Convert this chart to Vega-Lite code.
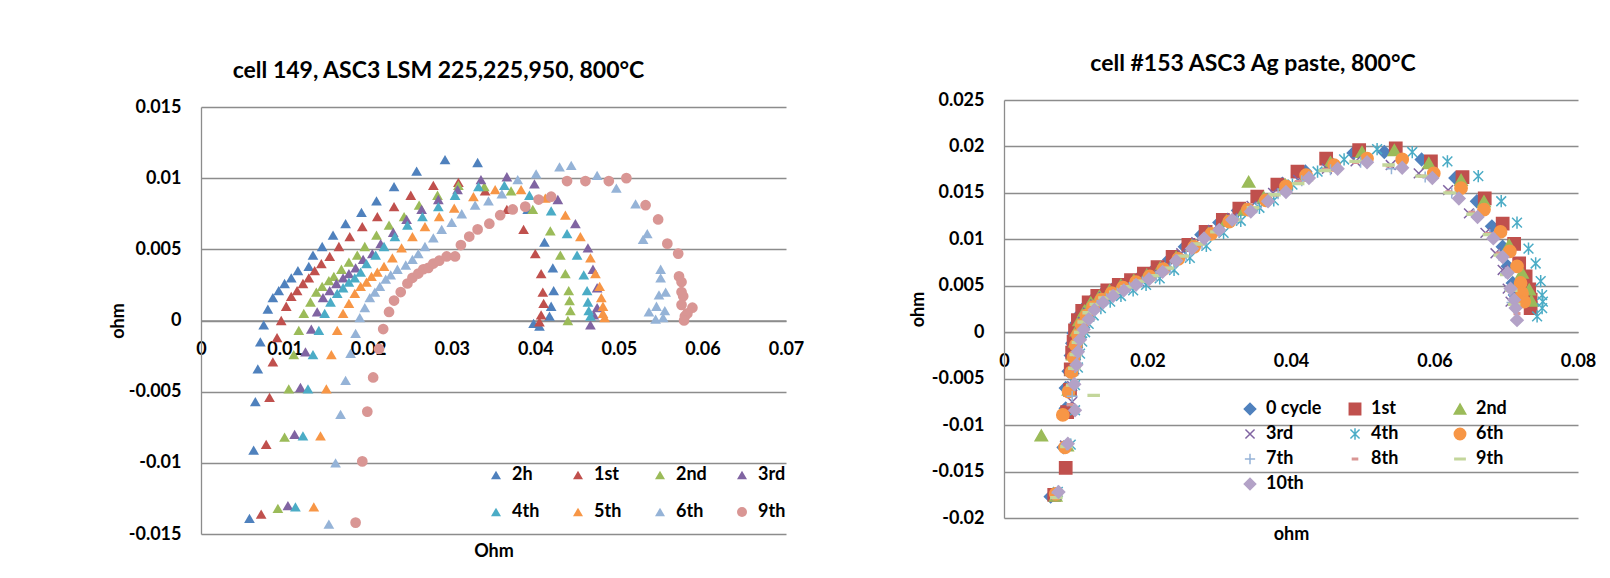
{
"$schema": "https://vega.github.io/schema/vega-lite/v6.json",
"background": "white",
"padding": {"left": 109, "top": 53, "right": 0, "bottom": 0},
"spacing": 218,
"bounds": "flush",
"config": {
  "font": "Lato",
  "view": {"stroke": null},
  "axis": {"labelFont": "Lato", "labelFontWeight": "bold", "labelFontSize": 18, "labelColor": "#000", "titleFont": "Lato", "titleFontWeight": "bold", "titleFontSize": 18, "titleColor": "#000", "ticks": false, "gridColor": "#8c8c8c", "domainColor": "#8c8c8c", "gridWidth": 1.3, "domainWidth": 1.3, "gridOpacity": 1, "labelFlush": false},
  "legend": {"labelFont": "Lato", "labelFontWeight": "bold", "labelFontSize": 18, "labelColor": "#000", "padding": 0},
  "title": {"font": "Lato", "fontWeight": "bold", "fontSize": 23, "color": "#000"}
},
"resolve": {"scale": {"color": "independent", "shape": "independent", "stroke": "independent"}, "legend": {"color": "independent", "shape": "independent", "stroke": "independent"}},
"hconcat": [
{
  "width": 585, "height": 434,
  "title": {"text": "cell 149, ASC3 LSM 225,225,950, 800°C", "frame": "group", "anchor": "middle", "dx": -55, "offset": -8, "baseline": "bottom"},
  "data": {"values": [
{"s":"2h","x":0.0058,"y":-0.0139},{"s":"2h","x":0.0063,"y":-0.0091},{"s":"2h","x":0.0065,"y":-0.0057},{"s":"2h","x":0.0068,"y":-0.0034},{"s":"2h","x":0.0071,"y":-0.0015},{"s":"2h","x":0.0075,"y":-0.0003},{"s":"2h","x":0.0080,"y":0.0008},{"s":"2h","x":0.0086,"y":0.0016},{"s":"2h","x":0.0093,"y":0.0021},{"s":"2h","x":0.0100,"y":0.0026},{"s":"2h","x":0.0108,"y":0.0030},{"s":"2h","x":0.0116,"y":0.0035},{"s":"2h","x":0.0129,"y":0.0038},{"s":"2h","x":0.0134,"y":0.0046},{"s":"2h","x":0.0145,"y":0.0052},{"s":"2h","x":0.0158,"y":0.0060},{"s":"2h","x":0.0173,"y":0.0068},{"s":"2h","x":0.0192,"y":0.0076},{"s":"2h","x":0.0210,"y":0.0084},{"s":"2h","x":0.0231,"y":0.0094},{"s":"2h","x":0.0258,"y":0.0105},{"s":"2h","x":0.0292,"y":0.0113},{"s":"2h","x":0.0331,"y":0.0111},{"s":"2h","x":0.0391,"y":0.0078},{"s":"2h","x":0.0411,"y":0.0055},{"s":"2h","x":0.0421,"y":0.0037},{"s":"2h","x":0.0422,"y":0.0021},{"s":"2h","x":0.0419,"y":0.0010},{"s":"2h","x":0.0417,"y":0.0003},{"s":"2h","x":0.0398,"y":-0.0002},{"s":"2h","x":0.0405,"y":-0.0004},
{"s":"1st","x":0.0072,"y":-0.0136},{"s":"1st","x":0.0078,"y":-0.0087},{"s":"1st","x":0.0082,"y":-0.0054},{"s":"1st","x":0.0086,"y":-0.0029},{"s":"1st","x":0.0091,"y":-0.0012},{"s":"1st","x":0.0096,"y":0.0000},{"s":"1st","x":0.0102,"y":0.0010},{"s":"1st","x":0.0108,"y":0.0017},{"s":"1st","x":0.0115,"y":0.0021},{"s":"1st","x":0.0122,"y":0.0026},{"s":"1st","x":0.0129,"y":0.0030},{"s":"1st","x":0.0136,"y":0.0035},{"s":"1st","x":0.0144,"y":0.0040},{"s":"1st","x":0.0154,"y":0.0045},{"s":"1st","x":0.0165,"y":0.0052},{"s":"1st","x":0.0178,"y":0.0059},{"s":"1st","x":0.0193,"y":0.0066},{"s":"1st","x":0.0211,"y":0.0073},{"s":"1st","x":0.0231,"y":0.0080},{"s":"1st","x":0.0251,"y":0.0088},{"s":"1st","x":0.0278,"y":0.0095},{"s":"1st","x":0.0308,"y":0.0097},{"s":"1st","x":0.0340,"y":0.0091},{"s":"1st","x":0.0366,"y":0.0078},{"s":"1st","x":0.0386,"y":0.0064},{"s":"1st","x":0.0400,"y":0.0047},{"s":"1st","x":0.0407,"y":0.0033},{"s":"1st","x":0.0409,"y":0.0020},{"s":"1st","x":0.0410,"y":0.0012},{"s":"1st","x":0.0407,"y":0.0004},{"s":"1st","x":0.0405,"y":-0.0001},
{"s":"2nd","x":0.0092,"y":-0.0132},{"s":"2nd","x":0.0100,"y":-0.0082},{"s":"2nd","x":0.0105,"y":-0.0048},{"s":"2nd","x":0.0111,"y":-0.0024},{"s":"2nd","x":0.0117,"y":-0.0007},{"s":"2nd","x":0.0123,"y":0.0005},{"s":"2nd","x":0.0131,"y":0.0013},{"s":"2nd","x":0.0138,"y":0.0020},{"s":"2nd","x":0.0145,"y":0.0024},{"s":"2nd","x":0.0153,"y":0.0028},{"s":"2nd","x":0.0159,"y":0.0031},{"s":"2nd","x":0.0168,"y":0.0036},{"s":"2nd","x":0.0177,"y":0.0041},{"s":"2nd","x":0.0187,"y":0.0046},{"s":"2nd","x":0.0196,"y":0.0052},{"s":"2nd","x":0.0210,"y":0.0060},{"s":"2nd","x":0.0225,"y":0.0067},{"s":"2nd","x":0.0243,"y":0.0073},{"s":"2nd","x":0.0261,"y":0.0081},{"s":"2nd","x":0.0283,"y":0.0088},{"s":"2nd","x":0.0308,"y":0.0095},{"s":"2nd","x":0.0339,"y":0.0094},{"s":"2nd","x":0.0371,"y":0.0091},{"s":"2nd","x":0.0397,"y":0.0078},{"s":"2nd","x":0.0418,"y":0.0063},{"s":"2nd","x":0.0430,"y":0.0046},{"s":"2nd","x":0.0436,"y":0.0033},{"s":"2nd","x":0.0440,"y":0.0021},{"s":"2nd","x":0.0441,"y":0.0014},{"s":"2nd","x":0.0442,"y":0.0007},{"s":"2nd","x":0.0439,"y":0.0000},
{"s":"3rd","x":0.0104,"y":-0.0130},{"s":"3rd","x":0.0112,"y":-0.0080},{"s":"3rd","x":0.0119,"y":-0.0047},{"s":"3rd","x":0.0125,"y":-0.0022},{"s":"3rd","x":0.0132,"y":-0.0006},{"s":"3rd","x":0.0139,"y":0.0006},{"s":"3rd","x":0.0146,"y":0.0016},{"s":"3rd","x":0.0154,"y":0.0021},{"s":"3rd","x":0.0162,"y":0.0026},{"s":"3rd","x":0.0170,"y":0.0030},{"s":"3rd","x":0.0177,"y":0.0033},{"s":"3rd","x":0.0185,"y":0.0037},{"s":"3rd","x":0.0194,"y":0.0043},{"s":"3rd","x":0.0205,"y":0.0047},{"s":"3rd","x":0.0215,"y":0.0054},{"s":"3rd","x":0.0230,"y":0.0062},{"s":"3rd","x":0.0246,"y":0.0071},{"s":"3rd","x":0.0264,"y":0.0078},{"s":"3rd","x":0.0284,"y":0.0085},{"s":"3rd","x":0.0307,"y":0.0092},{"s":"3rd","x":0.0335,"y":0.0099},{"s":"3rd","x":0.0366,"y":0.0101},{"s":"3rd","x":0.0399,"y":0.0096},{"s":"3rd","x":0.0427,"y":0.0085},{"s":"3rd","x":0.0448,"y":0.0068},{"s":"3rd","x":0.0463,"y":0.0051},{"s":"3rd","x":0.0469,"y":0.0036},{"s":"3rd","x":0.0474,"y":0.0023},{"s":"3rd","x":0.0474,"y":0.0009},{"s":"3rd","x":0.0470,"y":0.0004},{"s":"3rd","x":0.0466,"y":-0.0003},
{"s":"4th","x":0.0113,"y":-0.0131},{"s":"4th","x":0.0122,"y":-0.0081},{"s":"4th","x":0.0128,"y":-0.0048},{"s":"4th","x":0.0134,"y":-0.0024},{"s":"4th","x":0.0141,"y":-0.0007},{"s":"4th","x":0.0148,"y":0.0005},{"s":"4th","x":0.0155,"y":0.0013},{"s":"4th","x":0.0163,"y":0.0019},{"s":"4th","x":0.0170,"y":0.0023},{"s":"4th","x":0.0177,"y":0.0027},{"s":"4th","x":0.0184,"y":0.0030},{"s":"4th","x":0.0191,"y":0.0034},{"s":"4th","x":0.0198,"y":0.0040},{"s":"4th","x":0.0209,"y":0.0046},{"s":"4th","x":0.0219,"y":0.0052},{"s":"4th","x":0.0232,"y":0.0059},{"s":"4th","x":0.0247,"y":0.0067},{"s":"4th","x":0.0265,"y":0.0073},{"s":"4th","x":0.0284,"y":0.0080},{"s":"4th","x":0.0304,"y":0.0088},{"s":"4th","x":0.0332,"y":0.0094},{"s":"4th","x":0.0363,"y":0.0095},{"s":"4th","x":0.0393,"y":0.0088},{"s":"4th","x":0.0419,"y":0.0077},{"s":"4th","x":0.0438,"y":0.0061},{"s":"4th","x":0.0450,"y":0.0046},{"s":"4th","x":0.0458,"y":0.0032},{"s":"4th","x":0.0462,"y":0.0021},{"s":"4th","x":0.0463,"y":0.0013},{"s":"4th","x":0.0464,"y":0.0007},{"s":"4th","x":0.0466,"y":0.0003},
{"s":"5th","x":0.0135,"y":-0.0131},{"s":"5th","x":0.0143,"y":-0.0081},{"s":"5th","x":0.0150,"y":-0.0048},{"s":"5th","x":0.0156,"y":-0.0024},{"s":"5th","x":0.0163,"y":-0.0007},{"s":"5th","x":0.0170,"y":0.0005},{"s":"5th","x":0.0177,"y":0.0012},{"s":"5th","x":0.0184,"y":0.0019},{"s":"5th","x":0.0191,"y":0.0024},{"s":"5th","x":0.0198,"y":0.0027},{"s":"5th","x":0.0204,"y":0.0031},{"s":"5th","x":0.0211,"y":0.0034},{"s":"5th","x":0.0219,"y":0.0038},{"s":"5th","x":0.0229,"y":0.0044},{"s":"5th","x":0.0240,"y":0.0051},{"s":"5th","x":0.0253,"y":0.0059},{"s":"5th","x":0.0268,"y":0.0066},{"s":"5th","x":0.0285,"y":0.0073},{"s":"5th","x":0.0303,"y":0.0079},{"s":"5th","x":0.0326,"y":0.0087},{"s":"5th","x":0.0352,"y":0.0092},{"s":"5th","x":0.0383,"y":0.0092},{"s":"5th","x":0.0412,"y":0.0086},{"s":"5th","x":0.0436,"y":0.0074},{"s":"5th","x":0.0454,"y":0.0059},{"s":"5th","x":0.0466,"y":0.0044},{"s":"5th","x":0.0472,"y":0.0033},{"s":"5th","x":0.0477,"y":0.0024},{"s":"5th","x":0.0479,"y":0.0016},{"s":"5th","x":0.0481,"y":0.0010},{"s":"5th","x":0.0481,"y":0.0005},{"s":"5th","x":0.0483,"y":0.0002},
{"s":"6th","x":0.0153,"y":-0.0143},{"s":"6th","x":0.0161,"y":-0.0100},{"s":"6th","x":0.0167,"y":-0.0066},{"s":"6th","x":0.0173,"y":-0.0042},{"s":"6th","x":0.0179,"y":-0.0023},{"s":"6th","x":0.0185,"y":-0.0009},{"s":"6th","x":0.0190,"y":0.0002},{"s":"6th","x":0.0196,"y":0.0009},{"s":"6th","x":0.0202,"y":0.0016},{"s":"6th","x":0.0208,"y":0.0020},{"s":"6th","x":0.0214,"y":0.0024},{"s":"6th","x":0.0221,"y":0.0029},{"s":"6th","x":0.0227,"y":0.0032},{"s":"6th","x":0.0235,"y":0.0036},{"s":"6th","x":0.0245,"y":0.0039},{"s":"6th","x":0.0253,"y":0.0043},{"s":"6th","x":0.0260,"y":0.0047},{"s":"6th","x":0.0268,"y":0.0052},{"s":"6th","x":0.0278,"y":0.0058},{"s":"6th","x":0.0288,"y":0.0064},{"s":"6th","x":0.0300,"y":0.0069},{"s":"6th","x":0.0312,"y":0.0075},{"s":"6th","x":0.0328,"y":0.0081},{"s":"6th","x":0.0344,"y":0.0084},{"s":"6th","x":0.0360,"y":0.0089},{"s":"6th","x":0.0379,"y":0.0099},{"s":"6th","x":0.0401,"y":0.0103},{"s":"6th","x":0.0429,"y":0.0108},{"s":"6th","x":0.0443,"y":0.0109},{"s":"6th","x":0.0474,"y":0.0102},{"s":"6th","x":0.0497,"y":0.0093},{"s":"6th","x":0.0520,"y":0.0082},{"s":"6th","x":0.0534,"y":0.0061},{"s":"6th","x":0.0529,"y":0.0057},{"s":"6th","x":0.0550,"y":0.0036},{"s":"6th","x":0.0550,"y":0.0030},{"s":"6th","x":0.0556,"y":0.0020},{"s":"6th","x":0.0548,"y":0.0018},{"s":"6th","x":0.0545,"y":0.0010},{"s":"6th","x":0.0555,"y":0.0007},{"s":"6th","x":0.0536,"y":0.0006},{"s":"6th","x":0.0544,"y":0.0001},{"s":"6th","x":0.0553,"y":0.0002},
{"s":"9th","x":0.0185,"y":-0.0142},{"s":"9th","x":0.0193,"y":-0.0099},{"s":"9th","x":0.0199,"y":-0.0064},{"s":"9th","x":0.0206,"y":-0.0040},{"s":"9th","x":0.0213,"y":-0.0020},{"s":"9th","x":0.0218,"y":-0.0006},{"s":"9th","x":0.0225,"y":0.0006},{"s":"9th","x":0.0231,"y":0.0014},{"s":"9th","x":0.0239,"y":0.0020},{"s":"9th","x":0.0247,"y":0.0026},{"s":"9th","x":0.0253,"y":0.0030},{"s":"9th","x":0.0260,"y":0.0033},{"s":"9th","x":0.0266,"y":0.0036},{"s":"9th","x":0.0272,"y":0.0037},{"s":"9th","x":0.0278,"y":0.0040},{"s":"9th","x":0.0285,"y":0.0042},{"s":"9th","x":0.0294,"y":0.0045},{"s":"9th","x":0.0304,"y":0.0045},{"s":"9th","x":0.0311,"y":0.0053},{"s":"9th","x":0.0321,"y":0.0059},{"s":"9th","x":0.0331,"y":0.0064},{"s":"9th","x":0.0345,"y":0.0068},{"s":"9th","x":0.0358,"y":0.0074},{"s":"9th","x":0.0373,"y":0.0078},{"s":"9th","x":0.0388,"y":0.0080},{"s":"9th","x":0.0404,"y":0.0085},{"s":"9th","x":0.0419,"y":0.0087},{"s":"9th","x":0.0438,"y":0.0098},{"s":"9th","x":0.0460,"y":0.0098},{"s":"9th","x":0.0488,"y":0.0098},{"s":"9th","x":0.0509,"y":0.0100},{"s":"9th","x":0.0532,"y":0.0081},{"s":"9th","x":0.0547,"y":0.0071},{"s":"9th","x":0.0558,"y":0.0054},{"s":"9th","x":0.0571,"y":0.0047},{"s":"9th","x":0.0572,"y":0.0031},{"s":"9th","x":0.0575,"y":0.0027},{"s":"9th","x":0.0575,"y":0.0020},{"s":"9th","x":0.0577,"y":0.0017},{"s":"9th","x":0.0575,"y":0.0011},{"s":"9th","x":0.0588,"y":0.0009},{"s":"9th","x":0.0582,"y":0.0005},{"s":"9th","x":0.0579,"y":0.0003},{"s":"9th","x":0.0578,"y":0.0000}
  ]},
  "mark": {"type": "point", "filled": true, "size": 115, "opacity": 1, "strokeWidth": 0},
  "encoding": {
    "x": {"field": "x", "type": "quantitative", "scale": {"domain": [0, 0.07], "nice": false, "zero": false},
      "axis": {"values": [0, 0.01, 0.02, 0.03, 0.04, 0.05, 0.06, 0.07], "labelExpr": "'' + datum.value", "title": "Ohm", "grid": false, "offset": -213.5, "labelPadding": 20, "titleY": 231, "titleBaseline": "middle"}},
    "y": {"field": "y", "type": "quantitative", "scale": {"domain": [-0.015, 0.015], "nice": false, "zero": false, "range": [434, 7]},
      "axis": {"values": [-0.015, -0.01, -0.005, 0, 0.005, 0.01, 0.015], "labelExpr": "'' + datum.value", "title": "ohm", "grid": true, "labelPadding": 20, "titleX": -83, "titleBaseline": "middle"}},
    "color": {"field": "s", "type": "nominal",
      "scale": {"domain": ["2h","1st","2nd","3rd","4th","5th","6th","9th"], "range": ["#4F81BD","#C0504D","#9BBB59","#8064A2","#4BACC6","#F79646","#95B3D7","#D99694"]},
      "legend": {"orient": "none", "direction": "horizontal", "legendX": 286, "legendY": 366, "columns": 4, "title": null, "symbolSize": 100, "labelOffset": 7, "columnPadding": 26, "rowPadding": 19, "gridAlign": "all"}},
    "shape": {"field": "s", "type": "nominal",
      "scale": {"domain": ["2h","1st","2nd","3rd","4th","5th","6th","9th"], "range": ["triangle-up","triangle-up","triangle-up","triangle-up","triangle-up","triangle-up","triangle-up","circle"]}}
  }
},
{
  "width": 574, "height": 418,
  "title": {"text": "cell #153 ASC3 Ag paste, 800°C", "frame": "group", "anchor": "middle", "dx": -38, "offset": -8, "baseline": "bottom"},
  "data": {"values": [
{"s":"0 cycle","x":0.0065,"y":-0.0177},{"s":"0 cycle","x":0.0083,"y":-0.0124},{"s":"0 cycle","x":0.0086,"y":-0.0082},{"s":"0 cycle","x":0.0086,"y":-0.0060},{"s":"0 cycle","x":0.0090,"y":-0.0042},{"s":"0 cycle","x":0.0093,"y":-0.0025},{"s":"0 cycle","x":0.0095,"y":-0.0012},{"s":"0 cycle","x":0.0097,"y":-0.0001},{"s":"0 cycle","x":0.0101,"y":0.0010},{"s":"0 cycle","x":0.0107,"y":0.0020},{"s":"0 cycle","x":0.0115,"y":0.0029},{"s":"0 cycle","x":0.0126,"y":0.0037},{"s":"0 cycle","x":0.0140,"y":0.0044},{"s":"0 cycle","x":0.0156,"y":0.0050},{"s":"0 cycle","x":0.0173,"y":0.0055},{"s":"0 cycle","x":0.0191,"y":0.0061},{"s":"0 cycle","x":0.0210,"y":0.0068},{"s":"0 cycle","x":0.0230,"y":0.0078},{"s":"0 cycle","x":0.0252,"y":0.0092},{"s":"0 cycle","x":0.0275,"y":0.0105},{"s":"0 cycle","x":0.0300,"y":0.0118},{"s":"0 cycle","x":0.0326,"y":0.0131},{"s":"0 cycle","x":0.0355,"y":0.0145},{"s":"0 cycle","x":0.0388,"y":0.0160},{"s":"0 cycle","x":0.0420,"y":0.0173},{"s":"0 cycle","x":0.0455,"y":0.0183},{"s":"0 cycle","x":0.0487,"y":0.0193},{"s":"0 cycle","x":0.0530,"y":0.0194},{"s":"0 cycle","x":0.0582,"y":0.0186},{"s":"0 cycle","x":0.0629,"y":0.0166},{"s":"0 cycle","x":0.0659,"y":0.0141},{"s":"0 cycle","x":0.0680,"y":0.0114},{"s":"0 cycle","x":0.0695,"y":0.0092},{"s":"0 cycle","x":0.0702,"y":0.0071},{"s":"0 cycle","x":0.0709,"y":0.0053},{"s":"0 cycle","x":0.0712,"y":0.0040},
{"s":"1st","x":0.0070,"y":-0.0175},{"s":"1st","x":0.0086,"y":-0.0146},{"s":"1st","x":0.0088,"y":-0.0086},{"s":"1st","x":0.0092,"y":-0.0062},{"s":"1st","x":0.0093,"y":-0.0040},{"s":"1st","x":0.0095,"y":-0.0022},{"s":"1st","x":0.0097,"y":-0.0010},{"s":"1st","x":0.0099,"y":0.0002},{"s":"1st","x":0.0103,"y":0.0013},{"s":"1st","x":0.0109,"y":0.0023},{"s":"1st","x":0.0118,"y":0.0032},{"s":"1st","x":0.0130,"y":0.0039},{"s":"1st","x":0.0144,"y":0.0045},{"s":"1st","x":0.0160,"y":0.0051},{"s":"1st","x":0.0177,"y":0.0056},{"s":"1st","x":0.0195,"y":0.0063},{"s":"1st","x":0.0214,"y":0.0070},{"s":"1st","x":0.0235,"y":0.0081},{"s":"1st","x":0.0257,"y":0.0094},{"s":"1st","x":0.0281,"y":0.0108},{"s":"1st","x":0.0305,"y":0.0121},{"s":"1st","x":0.0328,"y":0.0133},{"s":"1st","x":0.0353,"y":0.0146},{"s":"1st","x":0.0381,"y":0.0159},{"s":"1st","x":0.0409,"y":0.0173},{"s":"1st","x":0.0449,"y":0.0187},{"s":"1st","x":0.0495,"y":0.0196},{"s":"1st","x":0.0546,"y":0.0198},{"s":"1st","x":0.0595,"y":0.0184},{"s":"1st","x":0.0639,"y":0.0167},{"s":"1st","x":0.0670,"y":0.0144},{"s":"1st","x":0.0695,"y":0.0117},{"s":"1st","x":0.0711,"y":0.0095},{"s":"1st","x":0.0718,"y":0.0074},{"s":"1st","x":0.0727,"y":0.0060},{"s":"1st","x":0.0732,"y":0.0046},{"s":"1st","x":0.0734,"y":0.0035},{"s":"1st","x":0.0734,"y":0.0026},
{"s":"2nd","x":0.0072,"y":-0.0176},{"s":"2nd","x":0.0052,"y":-0.0111},{"s":"2nd","x":0.0088,"y":-0.0122},{"s":"2nd","x":0.0090,"y":-0.0062},{"s":"2nd","x":0.0094,"y":-0.0040},{"s":"2nd","x":0.0096,"y":-0.0024},{"s":"2nd","x":0.0099,"y":-0.0010},{"s":"2nd","x":0.0101,"y":0.0002},{"s":"2nd","x":0.0105,"y":0.0013},{"s":"2nd","x":0.0112,"y":0.0023},{"s":"2nd","x":0.0121,"y":0.0032},{"s":"2nd","x":0.0133,"y":0.0039},{"s":"2nd","x":0.0147,"y":0.0045},{"s":"2nd","x":0.0163,"y":0.0051},{"s":"2nd","x":0.0181,"y":0.0056},{"s":"2nd","x":0.0199,"y":0.0062},{"s":"2nd","x":0.0218,"y":0.0070},{"s":"2nd","x":0.0240,"y":0.0081},{"s":"2nd","x":0.0262,"y":0.0094},{"s":"2nd","x":0.0285,"y":0.0107},{"s":"2nd","x":0.0310,"y":0.0120},{"s":"2nd","x":0.0341,"y":0.0162},{"s":"2nd","x":0.0335,"y":0.0132},{"s":"2nd","x":0.0362,"y":0.0145},{"s":"2nd","x":0.0392,"y":0.0159},{"s":"2nd","x":0.0421,"y":0.0169},{"s":"2nd","x":0.0455,"y":0.0183},{"s":"2nd","x":0.0499,"y":0.0194},{"s":"2nd","x":0.0544,"y":0.0196},{"s":"2nd","x":0.0592,"y":0.0182},{"s":"2nd","x":0.0637,"y":0.0164},{"s":"2nd","x":0.0669,"y":0.0141},{"s":"2nd","x":0.0704,"y":0.0094},{"s":"2nd","x":0.0722,"y":0.0064},{"s":"2nd","x":0.0732,"y":0.0046},{"s":"2nd","x":0.0735,"y":0.0034},
{"s":"3rd","x":0.0073,"y":-0.0175},{"s":"3rd","x":0.0085,"y":-0.0122},{"s":"3rd","x":0.0095,"y":-0.0075},{"s":"3rd","x":0.0095,"y":-0.0058},{"s":"3rd","x":0.0098,"y":-0.0040},{"s":"3rd","x":0.0100,"y":-0.0025},{"s":"3rd","x":0.0103,"y":-0.0012},{"s":"3rd","x":0.0106,"y":0.0000},{"s":"3rd","x":0.0110,"y":0.0011},{"s":"3rd","x":0.0117,"y":0.0021},{"s":"3rd","x":0.0127,"y":0.0030},{"s":"3rd","x":0.0139,"y":0.0038},{"s":"3rd","x":0.0154,"y":0.0044},{"s":"3rd","x":0.0170,"y":0.0050},{"s":"3rd","x":0.0188,"y":0.0055},{"s":"3rd","x":0.0206,"y":0.0062},{"s":"3rd","x":0.0225,"y":0.0070},{"s":"3rd","x":0.0247,"y":0.0085},{"s":"3rd","x":0.0268,"y":0.0097},{"s":"3rd","x":0.0291,"y":0.0110},{"s":"3rd","x":0.0318,"y":0.0123},{"s":"3rd","x":0.0345,"y":0.0136},{"s":"3rd","x":0.0375,"y":0.0150},{"s":"3rd","x":0.0410,"y":0.0164},{"s":"3rd","x":0.0450,"y":0.0176},{"s":"3rd","x":0.0490,"y":0.0184},{"s":"3rd","x":0.0539,"y":0.0180},{"s":"3rd","x":0.0578,"y":0.0171},{"s":"3rd","x":0.0619,"y":0.0153},{"s":"3rd","x":0.0648,"y":0.0128},{"s":"3rd","x":0.0671,"y":0.0107},{"s":"3rd","x":0.0685,"y":0.0085},{"s":"3rd","x":0.0695,"y":0.0067},{"s":"3rd","x":0.0702,"y":0.0047},{"s":"3rd","x":0.0706,"y":0.0033},
{"s":"4th","x":0.0075,"y":-0.0172},{"s":"4th","x":0.0093,"y":-0.0121},{"s":"4th","x":0.0099,"y":-0.0084},{"s":"4th","x":0.0099,"y":-0.0057},{"s":"4th","x":0.0103,"y":-0.0038},{"s":"4th","x":0.0106,"y":-0.0023},{"s":"4th","x":0.0109,"y":-0.0010},{"s":"4th","x":0.0113,"y":0.0000},{"s":"4th","x":0.0118,"y":0.0009},{"s":"4th","x":0.0125,"y":0.0018},{"s":"4th","x":0.0135,"y":0.0026},{"s":"4th","x":0.0148,"y":0.0033},{"s":"4th","x":0.0163,"y":0.0039},{"s":"4th","x":0.0180,"y":0.0045},{"s":"4th","x":0.0198,"y":0.0051},{"s":"4th","x":0.0217,"y":0.0058},{"s":"4th","x":0.0237,"y":0.0067},{"s":"4th","x":0.0259,"y":0.0080},{"s":"4th","x":0.0282,"y":0.0093},{"s":"4th","x":0.0306,"y":0.0107},{"s":"4th","x":0.0330,"y":0.0120},{"s":"4th","x":0.0356,"y":0.0134},{"s":"4th","x":0.0376,"y":0.0142},{"s":"4th","x":0.0402,"y":0.0159},{"s":"4th","x":0.0437,"y":0.0173},{"s":"4th","x":0.0474,"y":0.0186},{"s":"4th","x":0.0520,"y":0.0197},{"s":"4th","x":0.0569,"y":0.0194},{"s":"4th","x":0.0618,"y":0.0184},{"s":"4th","x":0.0661,"y":0.0168},{"s":"4th","x":0.0693,"y":0.0141},{"s":"4th","x":0.0715,"y":0.0118},{"s":"4th","x":0.0731,"y":0.0090},{"s":"4th","x":0.0741,"y":0.0074},{"s":"4th","x":0.0748,"y":0.0055},{"s":"4th","x":0.0750,"y":0.0040},{"s":"4th","x":0.0751,"y":0.0033},{"s":"4th","x":0.0750,"y":0.0026},{"s":"4th","x":0.0743,"y":0.0017},
{"s":"6th","x":0.0072,"y":-0.0174},{"s":"6th","x":0.0085,"y":-0.0124},{"s":"6th","x":0.0082,"y":-0.0089},{"s":"6th","x":0.0090,"y":-0.0064},{"s":"6th","x":0.0094,"y":-0.0043},{"s":"6th","x":0.0097,"y":-0.0027},{"s":"6th","x":0.0100,"y":-0.0014},{"s":"6th","x":0.0103,"y":-0.0003},{"s":"6th","x":0.0108,"y":0.0008},{"s":"6th","x":0.0115,"y":0.0018},{"s":"6th","x":0.0124,"y":0.0027},{"s":"6th","x":0.0136,"y":0.0035},{"s":"6th","x":0.0150,"y":0.0042},{"s":"6th","x":0.0166,"y":0.0048},{"s":"6th","x":0.0184,"y":0.0054},{"s":"6th","x":0.0203,"y":0.0060},{"s":"6th","x":0.0222,"y":0.0068},{"s":"6th","x":0.0243,"y":0.0079},{"s":"6th","x":0.0265,"y":0.0092},{"s":"6th","x":0.0289,"y":0.0106},{"s":"6th","x":0.0314,"y":0.0119},{"s":"6th","x":0.0340,"y":0.0132},{"s":"6th","x":0.0365,"y":0.0142},{"s":"6th","x":0.0393,"y":0.0157},{"s":"6th","x":0.0421,"y":0.0169},{"s":"6th","x":0.0460,"y":0.0180},{"s":"6th","x":0.0506,"y":0.0187},{"s":"6th","x":0.0555,"y":0.0186},{"s":"6th","x":0.0599,"y":0.0171},{"s":"6th","x":0.0637,"y":0.0155},{"s":"6th","x":0.0669,"y":0.0132},{"s":"6th","x":0.0692,"y":0.0108},{"s":"6th","x":0.0705,"y":0.0087},{"s":"6th","x":0.0715,"y":0.0071},{"s":"6th","x":0.0720,"y":0.0053},{"s":"6th","x":0.0722,"y":0.0042},{"s":"6th","x":0.0725,"y":0.0033},
{"s":"7th","x":0.0074,"y":-0.0173},{"s":"7th","x":0.0087,"y":-0.0121},{"s":"7th","x":0.0095,"y":-0.0069},{"s":"7th","x":0.0098,"y":-0.0055},{"s":"7th","x":0.0099,"y":-0.0038},{"s":"7th","x":0.0102,"y":-0.0024},{"s":"7th","x":0.0104,"y":-0.0011},{"s":"7th","x":0.0108,"y":0.0000},{"s":"7th","x":0.0113,"y":0.0010},{"s":"7th","x":0.0120,"y":0.0020},{"s":"7th","x":0.0130,"y":0.0029},{"s":"7th","x":0.0143,"y":0.0036},{"s":"7th","x":0.0158,"y":0.0042},{"s":"7th","x":0.0175,"y":0.0048},{"s":"7th","x":0.0193,"y":0.0054},{"s":"7th","x":0.0212,"y":0.0060},{"s":"7th","x":0.0232,"y":0.0069},{"s":"7th","x":0.0254,"y":0.0082},{"s":"7th","x":0.0276,"y":0.0095},{"s":"7th","x":0.0300,"y":0.0108},{"s":"7th","x":0.0325,"y":0.0121},{"s":"7th","x":0.0352,"y":0.0134},{"s":"7th","x":0.0382,"y":0.0149},{"s":"7th","x":0.0415,"y":0.0163},{"s":"7th","x":0.0455,"y":0.0175},{"s":"7th","x":0.0497,"y":0.0183},{"s":"7th","x":0.0540,"y":0.0176},{"s":"7th","x":0.0587,"y":0.0167},{"s":"7th","x":0.0624,"y":0.0150},{"s":"7th","x":0.0655,"y":0.0127},{"s":"7th","x":0.0677,"y":0.0105},{"s":"7th","x":0.0690,"y":0.0083},{"s":"7th","x":0.0699,"y":0.0064},{"s":"7th","x":0.0705,"y":0.0045},{"s":"7th","x":0.0708,"y":0.0032},
{"s":"8th","x":0.0074,"y":-0.0174},{"s":"8th","x":0.0088,"y":-0.0122},{"s":"8th","x":0.0092,"y":-0.0078},{"s":"8th","x":0.0096,"y":-0.0058},{"s":"8th","x":0.0099,"y":-0.0040},{"s":"8th","x":0.0101,"y":-0.0025},{"s":"8th","x":0.0104,"y":-0.0012},{"s":"8th","x":0.0107,"y":-0.0001},{"s":"8th","x":0.0112,"y":0.0010},{"s":"8th","x":0.0119,"y":0.0020},{"s":"8th","x":0.0129,"y":0.0029},{"s":"8th","x":0.0141,"y":0.0037},{"s":"8th","x":0.0156,"y":0.0043},{"s":"8th","x":0.0172,"y":0.0049},{"s":"8th","x":0.0190,"y":0.0055},{"s":"8th","x":0.0209,"y":0.0061},{"s":"8th","x":0.0229,"y":0.0069},{"s":"8th","x":0.0250,"y":0.0082},{"s":"8th","x":0.0273,"y":0.0095},{"s":"8th","x":0.0297,"y":0.0108},{"s":"8th","x":0.0322,"y":0.0121},{"s":"8th","x":0.0348,"y":0.0134},{"s":"8th","x":0.0378,"y":0.0148},{"s":"8th","x":0.0410,"y":0.0162},{"s":"8th","x":0.0448,"y":0.0175},{"s":"8th","x":0.0490,"y":0.0183},{"s":"8th","x":0.0537,"y":0.0179},{"s":"8th","x":0.0582,"y":0.0168},{"s":"8th","x":0.0620,"y":0.0151},{"s":"8th","x":0.0652,"y":0.0129},{"s":"8th","x":0.0675,"y":0.0106},{"s":"8th","x":0.0690,"y":0.0085},{"s":"8th","x":0.0700,"y":0.0065},{"s":"8th","x":0.0706,"y":0.0047},{"s":"8th","x":0.0712,"y":0.0030},{"s":"8th","x":0.0715,"y":0.0020},
{"s":"9th","x":0.0073,"y":-0.0178},{"s":"9th","x":0.0087,"y":-0.0123},{"s":"9th","x":0.0125,"y":-0.0068},{"s":"9th","x":0.0095,"y":-0.0057},{"s":"9th","x":0.0098,"y":-0.0039},{"s":"9th","x":0.0100,"y":-0.0024},{"s":"9th","x":0.0103,"y":-0.0011},{"s":"9th","x":0.0106,"y":0.0000},{"s":"9th","x":0.0111,"y":0.0011},{"s":"9th","x":0.0118,"y":0.0021},{"s":"9th","x":0.0128,"y":0.0030},{"s":"9th","x":0.0140,"y":0.0037},{"s":"9th","x":0.0155,"y":0.0043},{"s":"9th","x":0.0171,"y":0.0049},{"s":"9th","x":0.0189,"y":0.0055},{"s":"9th","x":0.0208,"y":0.0061},{"s":"9th","x":0.0228,"y":0.0069},{"s":"9th","x":0.0249,"y":0.0082},{"s":"9th","x":0.0272,"y":0.0095},{"s":"9th","x":0.0296,"y":0.0108},{"s":"9th","x":0.0321,"y":0.0121},{"s":"9th","x":0.0347,"y":0.0134},{"s":"9th","x":0.0377,"y":0.0148},{"s":"9th","x":0.0410,"y":0.0160},{"s":"9th","x":0.0447,"y":0.0174},{"s":"9th","x":0.0490,"y":0.0184},{"s":"9th","x":0.0536,"y":0.0180},{"s":"9th","x":0.0582,"y":0.0168},{"s":"9th","x":0.0621,"y":0.0150},{"s":"9th","x":0.0653,"y":0.0127},{"s":"9th","x":0.0676,"y":0.0105},{"s":"9th","x":0.0691,"y":0.0083},{"s":"9th","x":0.0700,"y":0.0062},{"s":"9th","x":0.0707,"y":0.0045},{"s":"9th","x":0.0711,"y":0.0030},
{"s":"10th","x":0.0076,"y":-0.0172},{"s":"10th","x":0.0089,"y":-0.0120},{"s":"10th","x":0.0099,"y":-0.0084},{"s":"10th","x":0.0098,"y":-0.0056},{"s":"10th","x":0.0101,"y":-0.0035},{"s":"10th","x":0.0103,"y":-0.0021},{"s":"10th","x":0.0106,"y":-0.0008},{"s":"10th","x":0.0111,"y":0.0003},{"s":"10th","x":0.0118,"y":0.0014},{"s":"10th","x":0.0126,"y":0.0024},{"s":"10th","x":0.0138,"y":0.0032},{"s":"10th","x":0.0152,"y":0.0039},{"s":"10th","x":0.0167,"y":0.0045},{"s":"10th","x":0.0184,"y":0.0051},{"s":"10th","x":0.0202,"y":0.0057},{"s":"10th","x":0.0221,"y":0.0065},{"s":"10th","x":0.0240,"y":0.0077},{"s":"10th","x":0.0262,"y":0.0090},{"s":"10th","x":0.0279,"y":0.0101},{"s":"10th","x":0.0300,"y":0.0110},{"s":"10th","x":0.0318,"y":0.0121},{"s":"10th","x":0.0344,"y":0.0130},{"s":"10th","x":0.0368,"y":0.0141},{"s":"10th","x":0.0393,"y":0.0151},{"s":"10th","x":0.0425,"y":0.0166},{"s":"10th","x":0.0465,"y":0.0176},{"s":"10th","x":0.0506,"y":0.0183},{"s":"10th","x":0.0555,"y":0.0177},{"s":"10th","x":0.0597,"y":0.0166},{"s":"10th","x":0.0634,"y":0.0144},{"s":"10th","x":0.0660,"y":0.0124},{"s":"10th","x":0.0682,"y":0.0101},{"s":"10th","x":0.0695,"y":0.0081},{"s":"10th","x":0.0702,"y":0.0064},{"s":"10th","x":0.0706,"y":0.0047},{"s":"10th","x":0.0711,"y":0.0035},{"s":"10th","x":0.0713,"y":0.0026},{"s":"10th","x":0.0715,"y":0.0013}
  ]},
  "mark": {"type": "point", "filled": true, "size": 150, "opacity": 1, "strokeWidth": 1.5},
  "encoding": {
    "x": {"field": "x", "type": "quantitative", "scale": {"domain": [0, 0.08], "nice": false, "zero": false},
      "axis": {"values": [0, 0.02, 0.04, 0.06, 0.08], "labelExpr": "'' + datum.value", "title": "ohm", "grid": false, "offset": -185.8, "labelPadding": 20, "titleY": 202, "titleBaseline": "middle"}},
    "y": {"field": "y", "type": "quantitative", "scale": {"domain": [-0.02, 0.025], "nice": false, "zero": false},
      "axis": {"values": [-0.02, -0.015, -0.01, -0.005, 0, 0.005, 0.01, 0.015, 0.02, 0.025], "labelExpr": "'' + datum.value", "title": "ohm", "grid": true, "labelPadding": 20, "titleX": -86, "titleBaseline": "middle"}},
    "color": {"field": "s", "type": "nominal",
      "scale": {"domain": ["0 cycle","1st","2nd","3rd","4th","6th","7th","8th","9th","10th"], "range": ["#4F81BD","#C0504D","#9BBB59","#8064A2","#4BACC6","#F79646","#95B3D7","#D99694","#C3D69B","#B3A2C7"]},
      "legend": {"orient": "none", "direction": "horizontal", "legendX": 237, "legendY": 300, "columns": 3, "title": null, "symbolSize": 130, "symbolStrokeWidth": 1.5, "labelOffset": 7, "columnPadding": 24, "rowPadding": 7, "gridAlign": "all"}},
    "stroke": {"field": "s", "type": "nominal",
      "scale": {"domain": ["0 cycle","1st","2nd","3rd","4th","6th","7th","8th","9th","10th"], "range": ["#4F81BD","#C0504D","#9BBB59","#8064A2","#4BACC6","#F79646","#95B3D7","#D99694","#C3D69B","#B3A2C7"]}},
    "shape": {"field": "s", "type": "nominal",
      "scale": {"domain": ["0 cycle","1st","2nd","3rd","4th","6th","7th","8th","9th","10th"], "range": ["diamond","square","triangle-up","M-0.8,-0.8L0.8,0.8M-0.8,0.8L0.8,-0.8","M-0.8,-0.8L0.8,0.8M-0.8,0.8L0.8,-0.8M0,-1L0,1","circle","M-0.9,0L0.9,0M0,-0.9L0,0.9","M-0.45,-0.15L0.45,-0.15L0.45,0.15L-0.45,0.15Z","M-0.9,-0.15L0.9,-0.15L0.9,0.15L-0.9,0.15Z","diamond"]}}
  }
}
]
}
